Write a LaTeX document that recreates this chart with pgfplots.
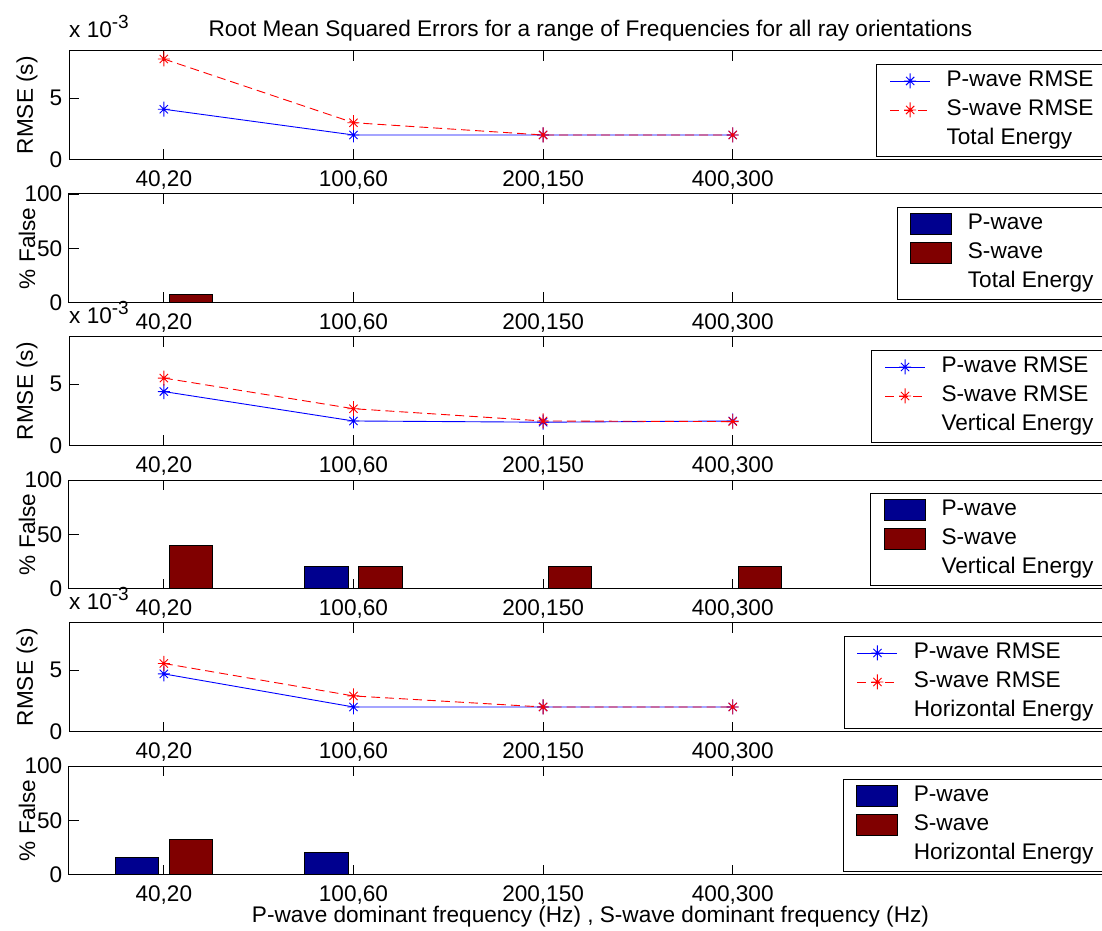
\documentclass[border=0pt]{standalone}
\usepackage{fontspec}
\setmainfont{Liberation Sans}
\usepackage{pgfplots}
\pgfplotsset{compat=1.18}

\definecolor{pbar}{rgb}{0,0,0.5625}
\definecolor{sbar}{rgb}{0.5,0,0}

\pgfdeclareplotmark{mstar}{%
  \pgfpathmoveto{\pgfpoint{0pt}{\pgfplotmarksize}}%
  \pgfpathlineto{\pgfpoint{0pt}{-\pgfplotmarksize}}%
  \pgfpathmoveto{\pgfpoint{0.8\pgfplotmarksize}{0pt}}%
  \pgfpathlineto{\pgfpoint{-0.8\pgfplotmarksize}{0pt}}%
  \pgfpathmoveto{\pgfpoint{0.55\pgfplotmarksize}{0.55\pgfplotmarksize}}%
  \pgfpathlineto{\pgfpoint{-0.55\pgfplotmarksize}{-0.55\pgfplotmarksize}}%
  \pgfpathmoveto{\pgfpoint{0.55\pgfplotmarksize}{-0.55\pgfplotmarksize}}%
  \pgfpathlineto{\pgfpoint{-0.55\pgfplotmarksize}{0.55\pgfplotmarksize}}%
  \pgfusepathqstroke}

\pgfplotsset{
  base/.style={
    width=1043pt, height=108.5pt, scale only axis,
    clip=false,
    xmin=0.5, xmax=6,
    xtick={1,2,3,4},
    xticklabels={{40,20},{100,60},{200,150},{400,300}},
    major tick length=10pt,
    tick style={black, line width=0.8pt},
    axis line style={line width=1pt},
    xticklabel style={inner sep=0pt, yshift=-11pt},
    yticklabel style={inner sep=0pt, xshift=-6.5pt},
    /pgf/number format/assume math mode=true,
    ylabel style={at={(axis description cs:-0.0402,0.5)}, anchor=center},
    legend style={at={(axis description cs:0.998,0.884)}, anchor=north east,
      draw=black, line width=0.8pt, fill=white,
      inner xsep=13pt, inner ysep=5.5pt, row sep=6pt, column sep=13pt,
      nodes={inner xsep=3pt, inner ysep=1pt, text height=16.5pt, text depth=4.5pt}},
    legend cell align=left,
  },
  rmse/.style={base, ymin=0, ymax=8.85, ytick={0,5}, ylabel={RMSE (s)},
    legend image code/.code={\draw[mark repeat=2,mark phase=2,##1] plot coordinates {(0pt,0pt) (20pt,0pt) (40pt,0pt)};}},
  fals/.style={base, ymin=0, ymax=100, ytick={0,50,100}, ylabel={\% False}},
  pline/.style={blue, line width=0.9pt, mark=mstar, mark size=7.5pt, mark options={solid}},
  sline/.style={red, line width=0.9pt, dash pattern=on 9pt off 5pt, mark=mstar, mark size=7.5pt, mark options={solid}},
  pbarst/.style={ybar, bar width=0.2286, bar shift=-0.1429, fill=pbar, draw=black, line width=0.8pt, forget plot},
  sbarst/.style={ybar, bar width=0.2286, bar shift=0.1429, fill=sbar, draw=black, line width=0.8pt, forget plot},
  barleg/.style={legend image code/.code={\draw[##1] (0pt,-10pt) rectangle (41pt,11pt);}},
}

\newcommand{\xten}{\node[anchor=base west, inner sep=0pt] at (axis description cs:0,1) [yshift=13.3pt] {x 10\raisebox{9pt}{\fontsize{19}{21}\selectfont -3}};}

\begin{document}
\fontsize{22.6pt}{26pt}\selectfont
\begin{tikzpicture}[font=\fontsize{22.6pt}{26pt}\selectfont]
\useasboundingbox (0,0) rectangle (1102pt,930pt);
\clip (0,0) rectangle (1102pt,930pt);

% 1: Total energy RMSE
\begin{axis}[rmse, at={(69pt,770.5pt)}, anchor=south west]
\addplot[pline] coordinates {(1,4.1) (2,2.0) (3,2.0) (4,2.0)};
\addlegendentry{P-wave RMSE}
\addplot[sline] coordinates {(1,8.2) (2,3.0) (3,2.0) (4,2.0)};
\addlegendentry{S-wave RMSE}
\addlegendimage{empty legend}
\addlegendentry{Total Energy}
\xten
\node[anchor=base, inner sep=0pt] at (axis description cs:0.5,1) [yshift=14.3pt] {Root Mean Squared Errors for a range of Frequencies for all ray orientations};
\end{axis}

% 2: Total energy % false
\begin{axis}[fals, at={(69pt,627.5pt)}, anchor=south west]
\addplot[pbarst] coordinates {(1,0) (2,0) (3,0) (4,0)};
\addplot[sbarst] coordinates {(1,7.5) (2,0) (3,0) (4,0)};
\addlegendimage{barleg, fill=pbar, draw=black, line width=0.8pt}
\addlegendentry{P-wave}
\addlegendimage{barleg, fill=sbar, draw=black, line width=0.8pt}
\addlegendentry{S-wave}
\addlegendimage{empty legend}
\addlegendentry{Total Energy}
\end{axis}

% 3: Vertical energy RMSE
\begin{axis}[rmse, at={(69pt,484.5pt)}, anchor=south west]
\addplot[pline] coordinates {(1,4.4) (2,2.0) (3,1.9) (4,2.0)};
\addlegendentry{P-wave RMSE}
\addplot[sline] coordinates {(1,5.5) (2,3.0) (3,2.0) (4,1.95)};
\addlegendentry{S-wave RMSE}
\addlegendimage{empty legend}
\addlegendentry{Vertical Energy}
\xten
\end{axis}

% 4: Vertical energy % false
\begin{axis}[fals, at={(69pt,341.5pt)}, anchor=south west]
\addplot[pbarst] coordinates {(1,0) (2,20) (3,0) (4,0)};
\addplot[sbarst] coordinates {(1,40) (2,20) (3,20) (4,20)};
\addlegendimage{barleg, fill=pbar, draw=black, line width=0.8pt}
\addlegendentry{P-wave}
\addlegendimage{barleg, fill=sbar, draw=black, line width=0.8pt}
\addlegendentry{S-wave}
\addlegendimage{empty legend}
\addlegendentry{Vertical Energy}
\end{axis}

% 5: Horizontal energy RMSE
\begin{axis}[rmse, at={(69pt,198.5pt)}, anchor=south west]
\addplot[pline] coordinates {(1,4.7) (2,2.0) (3,2.0) (4,2.0)};
\addlegendentry{P-wave RMSE}
\addplot[sline] coordinates {(1,5.55) (2,2.9) (3,2.0) (4,2.0)};
\addlegendentry{S-wave RMSE}
\addlegendimage{empty legend}
\addlegendentry{Horizontal Energy}
\xten
\end{axis}

% 6: Horizontal energy % false
\begin{axis}[fals, at={(69pt,55.5pt)}, anchor=south west]
\addplot[pbarst] coordinates {(1,15.5) (2,20) (3,0) (4,0)};
\addplot[sbarst] coordinates {(1,32) (2,0) (3,0) (4,0)};
\addlegendimage{barleg, fill=pbar, draw=black, line width=0.8pt}
\addlegendentry{P-wave}
\addlegendimage{barleg, fill=sbar, draw=black, line width=0.8pt}
\addlegendentry{S-wave}
\addlegendimage{empty legend}
\addlegendentry{Horizontal Energy}
\node[anchor=base, inner sep=0pt] at (axis description cs:0.5,0) [yshift=-47.5pt] {P-wave dominant frequency (Hz) , S-wave dominant frequency (Hz)};
\end{axis}
\end{tikzpicture}
\end{document}
